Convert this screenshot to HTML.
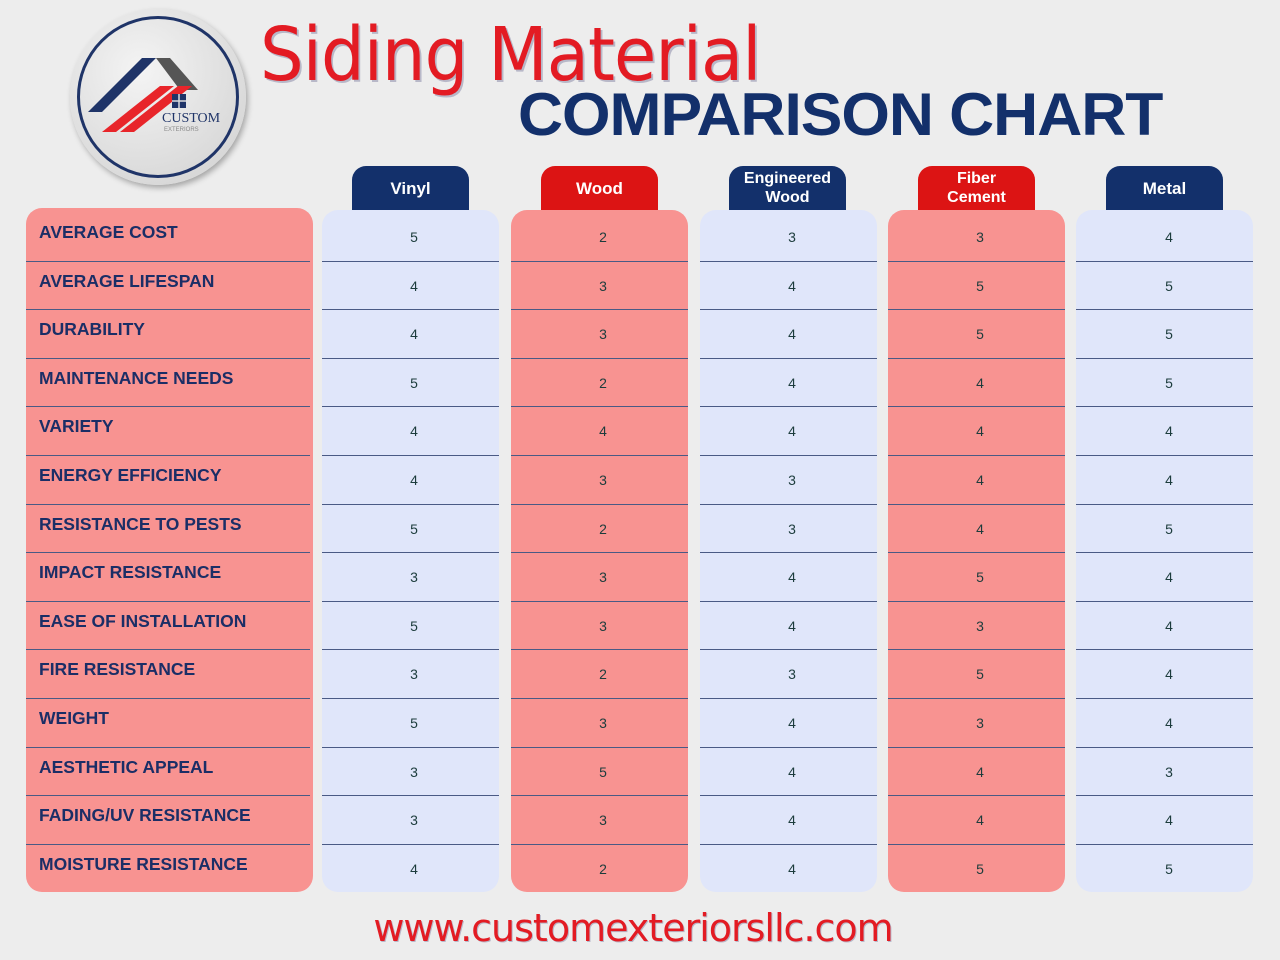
<!DOCTYPE html>
<html><head><meta charset="utf-8"><style>
*{margin:0;padding:0;box-sizing:border-box}
body{width:1280px;height:960px;background:#ededed;position:relative;overflow:hidden;font-family:"Liberation Sans",sans-serif}
.abs{position:absolute}
.col{position:absolute;top:210px;height:682px;border-radius:16px}
.blue{background:#e0e6fa}
.pink{background:#f89391}
.tab{position:absolute;top:166px;width:117px;height:44px;border-radius:14px 14px 0 0;color:#fff;font-weight:bold;font-size:17px;display:flex;align-items:center;justify-content:center;text-align:center;line-height:19px}
.line{position:absolute;height:1px;background:#4a5a85}
.lbl{position:absolute;left:39px;color:#1b2e66;font-weight:bold;font-size:17.5px}
.v{position:absolute;width:40px;text-align:center;font-size:14px;color:#1c3c3c}
</style></head><body>
<div class="abs" style="left:70px;top:9px;width:176px;height:176px;border-radius:50%;background:radial-gradient(circle at 40% 35%,#f4f4f4,#cfcfcf);box-shadow:2px 3px 6px rgba(0,0,0,.3)"></div>
<div class="abs" style="left:77px;top:16px;width:162px;height:162px;border-radius:50%;border:3px solid #1f3468"></div>
<svg class="abs" style="left:80px;top:50px" width="160" height="90">
<polygon points="8,62 62,8 76,8 22,62" fill="#1f3468"/>
<polygon points="76,8 90,8 118,40 100,40" fill="#555"/>
<polygon points="22,82 80,36 94,36 36,82" fill="#e8252a"/>
<polygon points="40,82 98,36 112,36 54,82" fill="#e8252a"/>
<rect x="92" y="44" width="14" height="14" fill="#1f3468"/>
<line x1="99" y1="44" x2="99" y2="58" stroke="#ddd" stroke-width="1.5"/><line x1="92" y1="51" x2="106" y2="51" stroke="#ddd" stroke-width="1.5"/>
<text x="82" y="72" font-family="Liberation Serif" font-size="14" fill="#1f3468">CUSTOM</text>
<text x="84" y="81" font-family="Liberation Sans" font-size="6" fill="#888">EXTERIORS</text>
</svg>
<div class="abs" style="left:260px;top:12px;font-size:74px;color:#e31b23;font-family:'DejaVu Sans','Liberation Sans',sans-serif;letter-spacing:-1px;text-shadow:2px 2px 0 #b8b8c8;transform:scaleX(0.93);transform-origin:left">Siding Material</div>
<div class="abs" style="left:518px;top:80px;font-size:60px;font-weight:bold;color:#13306b;letter-spacing:-1px;transform:scaleX(1.04);transform-origin:left">COMPARISON CHART</div>
<div class="col pink" style="left:26px;top:208px;width:287px;height:684px"></div>
<div class="col blue" style="left:322px;width:177px"></div>
<div class="col pink" style="left:511px;width:177px"></div>
<div class="col blue" style="left:700px;width:177px"></div>
<div class="col pink" style="left:888px;width:177px"></div>
<div class="col blue" style="left:1076px;width:177px"></div>
<div class="tab" style="left:352px;background:#13306b">Vinyl</div>
<div class="tab" style="left:541px;background:#dc1414">Wood</div>
<div class="tab" style="left:729px;background:#13306b;font-size:16px">Engineered<br>Wood</div>
<div class="tab" style="left:918px;background:#dc1414;font-size:16px">Fiber<br>Cement</div>
<div class="tab" style="left:1106px;background:#13306b">Metal</div>
<div id="rows"></div>
<div class="abs" style="left:372px;top:906px;width:522px;text-align:center;font-size:38px;color:#e31b23;font-family:'DejaVu Sans',sans-serif;letter-spacing:-1px;text-shadow:1px 1px 0 #b8b8c8">www.customexteriorsllc.com</div>
<script>
var L=["AVERAGE COST","AVERAGE LIFESPAN","DURABILITY","MAINTENANCE NEEDS","VARIETY","ENERGY EFFICIENCY","RESISTANCE TO PESTS","IMPACT RESISTANCE","EASE OF INSTALLATION","FIRE RESISTANCE","WEIGHT","AESTHETIC APPEAL","FADING/UV RESISTANCE","MOISTURE RESISTANCE"];
var D=[[5,2,3,3,4],[4,3,4,5,5],[4,3,4,5,5],[5,2,4,4,5],[4,4,4,4,4],[4,3,3,4,4],[5,2,3,4,5],[3,3,4,5,4],[5,3,4,3,4],[3,2,3,5,4],[5,3,4,3,4],[3,5,4,4,3],[3,3,4,4,4],[4,2,4,5,5]];
var X=[410,599,788,976,1165],h="";
for(var i=0;i<14;i++){var y=212+i*48.6;
h+='<div class="lbl" style="top:'+(y+10)+'px">'+L[i]+'</div>';
for(var j=0;j<5;j++)h+='<div class="v" style="left:'+(X[j]-16)+'px;top:'+(y+17)+'px">'+D[i][j]+'</div>';
if(i>0){h+='<div class="line" style="left:26px;width:284px;top:'+y+'px"></div>';
[322,511,700,888,1076].forEach(function(x){h+='<div class="line" style="left:'+x+'px;width:177px;top:'+y+'px"></div>'});}}
document.getElementById('rows').innerHTML=h;
</script>
</body></html>
